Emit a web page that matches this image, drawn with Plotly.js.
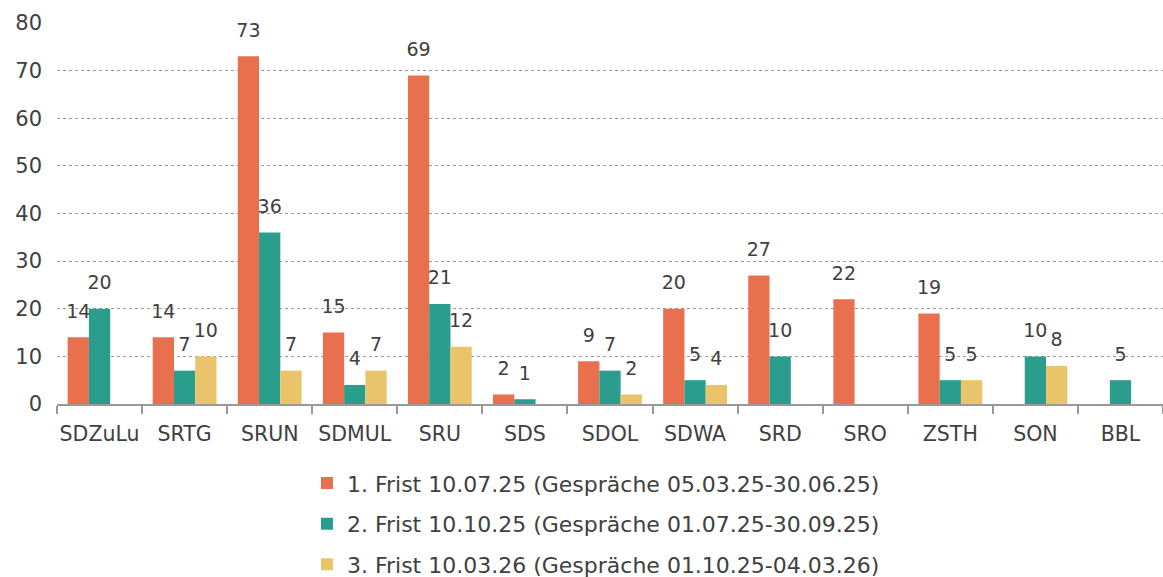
<!DOCTYPE html>
<html>
<head>
<meta charset="utf-8">
<script src="https://cdn.plot.ly/plotly-3.0.1.min.js"></script>
<style>html,body{margin:0;padding:0;background:#fff;}#chart{width:1163px;height:577px;}</style>
</head>
<body>
<div id="chart"></div>
<script>
const categories = ["SDZuLu","SRTG","SRUN","SDMUL","SRU","SDS","SDOL","SDWA","SRD","SRO","ZSTH","SON","BBL"];
const series1 = [14,14,73,15,69,2,9,20,27,22,19,null,null];
const series2 = [20,7,36,4,21,1,7,5,10,null,5,10,5];
const series3 = [null,10,7,7,12,null,2,4,null,null,5,8,null];
const seriesNames = [
  "1. Frist 10.07.25 (Gespräche 05.03.25-30.06.25)",
  "2. Frist 10.10.25 (Gespräche 01.07.25-30.09.25)",
  "3. Frist 10.03.26 (Gespräche 01.10.25-04.03.26)"
];
const colors = ["#E8704F","#2A9D8C","#E9C46A"];
const yTicks = [0,10,20,30,40,50,60,70,80];

const font = "DejaVu Sans, Verdana, sans-serif";
const textColor = "#404040";
const allSeries = [series1, series2, series3];

const barTraces = allSeries.map((vals, i) => ({
  type: "bar",
  x: categories,
  y: vals,
  name: seriesNames[i],
  legendgroup: "g" + i,
  offsetgroup: "o" + i,
  marker: {color: colors[i]},
  hoverinfo: "none"
}));

const labelTraces = allSeries.map((vals, i) => ({
  type: "scatter",
  mode: "markers+text",
  x: categories,
  y: vals,
  offsetgroup: "o" + i,
  showlegend: false,
  legendgroup: "g" + i,
  marker: {size: 22, opacity: 0, color: colors[i]},
  text: vals.map(v => v === null ? "" : String(v)),
  textposition: "top center",
  textfont: {family: font, size: 19, color: textColor},
  cliponaxis: false,
  hoverinfo: "none"
}));

const layout = {
  width: 1163, height: 577,
  margin: {l: 57, r: 0, t: 23, b: 173, autoexpand: false},
  paper_bgcolor: "#fff", plot_bgcolor: "#fff",
  barmode: "group",
  bargap: 0.25,
  bargroupgap: 0,
  scattermode: "group",
  scattergap: 0.25,
  font: {family: font, color: textColor},
  showlegend: true,
  legend: {
    orientation: "v",
    x: 0.226, xanchor: "left",
    y: -0.153, yanchor: "top",
    font: {family: font, size: 22, color: textColor},
    traceorder: "grouped",
    tracegroupgap: 9,
    itemwidth: 30,
    bgcolor: "rgba(0,0,0,0)"
  },
  xaxis: {
    type: "category",
    tickangle: 0,
    tickfont: {family: font, size: 20.5, color: textColor},
    showline: true, linecolor: "#999999", linewidth: 2,
    ticks: "outside", tickson: "boundaries", ticklen: 8, tickcolor: "#999999", tickwidth: 2,
    ticklabelstandoff: 10,
    showgrid: false, zeroline: false,
    fixedrange: true
  },
  yaxis: {
    range: [0, 80],
    tickvals: yTicks,
    ticktext: yTicks.map(String),
    tickfont: {family: font, size: 21, color: textColor},
    showgrid: true, gridcolor: "#9a9a9a", griddash: "dot", gridwidth: 1,
    zeroline: false, showline: false, ticks: "",
    ticklabelstandoff: 14,
    fixedrange: true
  }
};

Plotly.newPlot("chart", barTraces.concat(labelTraces), layout, {displayModeBar: false, staticPlot: true});
</script>
</body>
</html>
